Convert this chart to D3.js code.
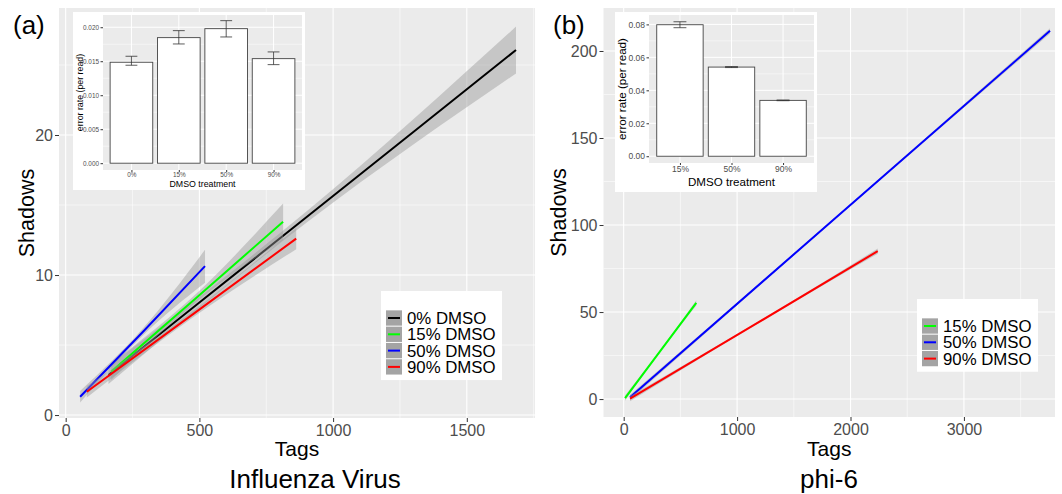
<!DOCTYPE html>
<html>
<head>
<meta charset="utf-8">
<script src="https://cdn.jsdelivr.net/npm/d3@7"></script>
<style>
  body { margin: 0; background: #fff; }
  text { font-family: "Liberation Sans", Arial, Helvetica, sans-serif; }
</style>
</head>
<body>
<svg id="chart" width="1062" height="494"></svg>
<script>
// ---- data: (a) influenza
var fluGroups = ['0% DMSO', '15% DMSO', '50% DMSO', '90% DMSO'];
var fluColors = ['#000000', '#00FF00', '#0000FF', '#FF0000'];
var fluTags = [[160, 500, 900, 1300, 1684], [170, 490, 813], [54, 290, 521], [79, 470, 862]];
var fluFit  = [[2.86, 8.04, 14.13, 20.22, 26.07], [3.1, 8.4, 13.8], [1.31, 5.97, 10.64], [1.66, 7.12, 12.6]];
var fluLow  = [[2.21, 7.64, 13.73, 19.32, 24.4], [2.5, 8.1, 12.5], [0.9, 5.72, 9.45], [1.25, 6.9, 11.85]];
var fluHigh = [[3.51, 8.44, 14.53, 21.12, 27.74], [3.7, 8.7, 15.1], [1.72, 6.22, 11.8], [2.07, 7.34, 13.35]];
var fluTagTicks = [0, 500, 1000, 1500];
var fluShadowTicks = [0, 10, 20];

var fluDmso = ['0%', '15%', '50%', '90%'];
var fluRate = [0.01485, 0.01847, 0.01979, 0.01538];
var fluRateLo = [0.01441, 0.01754, 0.01857, 0.0145];
var fluRateHi = [0.01573, 0.0195, 0.02097, 0.01637];
var fluRateTicks = [0, 0.005, 0.01, 0.015, 0.02];

// ---- data: (b) phi-6
var phiGroups = ['15% DMSO', '50% DMSO', '90% DMSO'];
var phiColors = ['#00FF00', '#0000FF', '#FF0000'];
var phiTags = [[12, 330, 640], [56, 1900, 3759], [56, 1150, 2240]];
var phiFit  = [[0.6, 28.3, 55.3], [1.0, 105.9, 211.6], [0.2, 42.6, 85.0]];
var phiLow  = [[-0.9, 27.7, 53.8], [-0.5, 105.4, 210.1], [-1.3, 42.1, 83.5]];
var phiHigh = [[2.1, 28.9, 56.8], [2.5, 106.4, 213.1], [1.7, 43.1, 86.5]];
var phiTagTicks = [0, 1000, 2000, 3000];
var phiShadowTicks = [0, 50, 100, 150, 200];

var phiDmso = ['15%', '50%', '90%'];
var phiRate = [0.0798, 0.0541, 0.0339];
var phiRateLo = [0.078, 0.0538, 0.0337];
var phiRateHi = [0.0816, 0.0544, 0.0341];
var phiRateTicks = [0, 0.02, 0.04, 0.06, 0.08];

var svg = d3.select('#chart');

function minors(ticks, dom) {
  var step = ticks[1] - ticks[0];
  var out = [];
  for (var i = -1; i < ticks.length; i++) {
    var v = (i < 0 ? ticks[0] - step : ticks[i]) + step / 2;
    if (v > dom[0] && v < dom[1]) out.push(v);
  }
  return out;
}

function grid(g, x, y, xs, ys, box, w) {
  xs.forEach(function(v) {
    g.append('line').attr('x1', x(v)).attr('x2', x(v)).attr('y1', box.y0).attr('y2', box.y1)
      .attr('stroke', '#fff').attr('stroke-width', w);
  });
  ys.forEach(function(v) {
    g.append('line').attr('y1', y(v)).attr('y2', y(v)).attr('x1', box.x0).attr('x2', box.x1)
      .attr('stroke', '#fff').attr('stroke-width', w);
  });
}

function styleAxis(a, size) {
  a.select('.domain').remove();
  a.selectAll('.tick line').attr('stroke', '#333');
  a.selectAll('.tick text').attr('fill', '#4D4D4D').style('font-size', size + 'px');
}

function drawMain(c) {
  var x = d3.scaleLinear().domain(c.xDom).range([c.x0, c.x1]);
  var y = d3.scaleLinear().domain(c.yDom).range([c.y1, c.y0]);
  var g = svg.append('g');
  g.append('rect').attr('x', c.x0).attr('y', c.y0).attr('width', c.x1 - c.x0).attr('height', c.y1 - c.y0)
    .attr('fill', '#EBEBEB');
  grid(g, x, y, minors(c.xTicks, c.xDom), minors(c.yTicks, c.yDom), c, 0.55);
  grid(g, x, y, c.xTicks, c.yTicks, c, 1.1);

  c.groups.forEach(function(name, i) {
    var pts = c.tags[i].map(function(t, j) {
      return {t: t, f: c.fit[i][j], lo: c.low[i][j], hi: c.high[i][j]};
    });
    g.append('path').datum(pts)
      .attr('d', d3.area().curve(d3.curveNatural)
        .x(function(d) { return x(d.t); })
        .y0(function(d) { return y(d.lo); })
        .y1(function(d) { return y(d.hi); }))
      .attr('fill', '#999').attr('fill-opacity', 0.45);
    g.append('path').datum(pts)
      .attr('d', d3.line().x(function(d) { return x(d.t); }).y(function(d) { return y(d.f); }))
      .attr('fill', 'none').attr('stroke', c.colors[i]).attr('stroke-width', 2);
  });

  var ax = g.append('g').attr('transform', 'translate(0,' + c.y1 + ')')
    .call(d3.axisBottom(x).tickValues(c.xTicks).tickFormat(d3.format('d')).tickSize(4).tickPadding(3));
  styleAxis(ax, 16);
  var ay = g.append('g').attr('transform', 'translate(' + c.x0 + ',0)')
    .call(d3.axisLeft(y).tickValues(c.yTicks).tickFormat(d3.format('d')).tickSize(4).tickPadding(2));
  styleAxis(ay, 16);

  g.append('text').attr('x', (c.x0 + c.x1) / 2).attr('y', 456).attr('text-anchor', 'middle')
    .style('font-size', '21px').text('Tags');
  g.append('text').attr('transform', 'translate(' + c.yTitleX + ',' + (c.y0 + c.y1) / 2 + ') rotate(-90)')
    .attr('text-anchor', 'middle').style('font-size', '21.5px').text('Shadows');
  g.append('text').attr('x', c.nameX).attr('y', 488).attr('text-anchor', 'middle')
    .style('font-size', '26px').text(c.name);
  g.append('text').attr('x', c.tagX).attr('y', 34).style('font-size', '26px').text(c.tag);

  // legend
  var lg = g.append('g');
  var rowH = 16.3;
  var top = c.legY;
  lg.append('rect').attr('x', c.legX).attr('y', top).attr('width', 121)
    .attr('height', 27 + rowH * (c.groups.length - 0.5) + 5).attr('fill', '#fff');
  c.groups.forEach(function(name, i) {
    var cy = top + 27 + rowH * i;
    lg.append('rect').attr('x', c.legX + 5).attr('y', cy - rowH / 2 + 0.5).attr('width', 16)
      .attr('height', rowH - 1).attr('fill', '#A4A4A4');
    lg.append('line').attr('x1', c.legX + 7).attr('x2', c.legX + 19).attr('y1', cy).attr('y2', cy)
      .attr('stroke', c.colors[i]).attr('stroke-width', 2);
    lg.append('text').attr('x', c.legX + 26).attr('y', cy + 6).style('font-size', '16.8px').text(name);
  });
}

function drawInset(c) {
  var g = svg.append('g');
  g.append('rect').attr('x', c.bx0).attr('y', c.by0).attr('width', c.bx1 - c.bx0).attr('height', c.by1 - c.by0)
    .attr('fill', '#fff');
  var x = d3.scalePoint().domain(c.cats).range([c.x0, c.x1]).padding(0.6);
  var y = d3.scaleLinear().domain(c.yDom).range([c.y1, c.y0]);
  g.append('rect').attr('x', c.x0).attr('y', c.y0).attr('width', c.x1 - c.x0).attr('height', c.y1 - c.y0)
    .attr('fill', '#EBEBEB');
  grid(g, x, y, [], minors(c.yTicks, c.yDom), c, 0.5);
  grid(g, x, y, c.cats, c.yTicks, c, 1);
  var bw = x.step() * 0.9;
  var cap = x.step() * 0.125;
  c.cats.forEach(function(k, i) {
    g.append('rect').attr('x', x(k) - bw / 2).attr('y', y(c.vals[i])).attr('width', bw)
      .attr('height', y(0) - y(c.vals[i])).attr('fill', '#fff').attr('stroke', '#444').attr('stroke-width', 0.9);
    var eb = g.append('g').attr('stroke', '#333').attr('stroke-width', 0.8);
    eb.append('line').attr('x1', x(k)).attr('x2', x(k)).attr('y1', y(c.lo[i])).attr('y2', y(c.hi[i]));
    eb.append('line').attr('x1', x(k) - cap).attr('x2', x(k) + cap).attr('y1', y(c.lo[i])).attr('y2', y(c.lo[i]));
    eb.append('line').attr('x1', x(k) - cap).attr('x2', x(k) + cap).attr('y1', y(c.hi[i])).attr('y2', y(c.hi[i]));
  });
  var ax = g.append('g').attr('transform', 'translate(0,' + c.y1 + ')')
    .call(d3.axisBottom(x).tickSize(2).tickPadding(0.5));
  styleAxis(ax, c.tickFont);
  var ay = g.append('g').attr('transform', 'translate(' + c.x0 + ',0)')
    .call(d3.axisLeft(y).tickValues(c.yTicks).tickFormat(d3.format(c.fmt)).tickSize(2.5).tickPadding(1.5));
  styleAxis(ay, c.tickFont);
  g.append('text').attr('x', (c.x0 + c.x1) / 2).attr('y', c.xTitleY).attr('text-anchor', 'middle')
    .style('font-size', c.titleFont + 'px').text('DMSO treatment');
  g.append('text').attr('transform', 'translate(' + c.yTitleX + ',' + (c.y0 + c.y1) / 2 + ') rotate(-90)')
    .attr('text-anchor', 'middle').style('font-size', c.titleFont + 'px').text('error rate (per read)');
}

drawMain({
  x0: 59, x1: 535, y0: 8, y1: 418, xDom: [-25, 1755], yDom: [-0.21, 29.07],
  xTicks: fluTagTicks, yTicks: fluShadowTicks,
  groups: fluGroups, colors: fluColors, tags: fluTags, fit: fluFit, low: fluLow, high: fluHigh,
  yTitleX: 34, name: 'Influenza Virus', nameX: 315, tag: '(a)', tagX: 13,
  legX: 381, legY: 291
});
drawInset({
  bx0: 73, bx1: 305, by0: 12, by1: 190, x0: 103, x1: 302, y0: 15, y1: 170,
  cats: fluDmso, vals: fluRate, lo: fluRateLo, hi: fluRateHi,
  yDom: [-0.001, 0.0218], yTicks: fluRateTicks, fmt: '.3f',
  tickFont: 6.4, titleFont: 8.8, xTitleY: 186.5, yTitleX: 83
});

drawMain({
  x0: 603.5, x1: 1055, y0: 8, y1: 417, xDom: [-178, 3803], yDom: [-10.3, 224.7],
  xTicks: phiTagTicks, yTicks: phiShadowTicks,
  groups: phiGroups, colors: phiColors, tags: phiTags, fit: phiFit, low: phiLow, high: phiHigh,
  yTitleX: 566, name: 'phi-6', nameX: 829, tag: '(b)', tagX: 553,
  legX: 917, legY: 299
});
drawInset({
  bx0: 615, bx1: 817, by0: 12, by1: 192, x0: 649, x1: 814, y0: 15, y1: 163,
  cats: phiDmso, vals: phiRate, lo: phiRateLo, hi: phiRateHi,
  yDom: [-0.0041, 0.0857], yTicks: phiRateTicks, fmt: '.2f',
  tickFont: 8.5, titleFont: 11.6, xTitleY: 185.5, yTitleX: 626
});
</script>
</body>
</html>
